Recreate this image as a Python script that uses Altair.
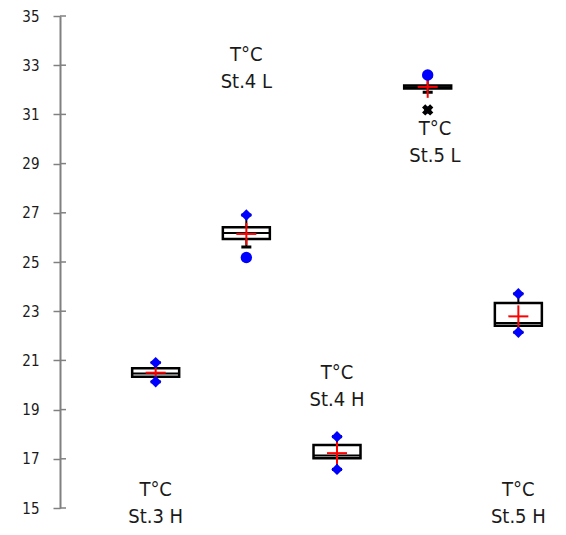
import altair as alt
import pandas as pd

# ---- data ----
categories = ["St.3 H", "St.4 L", "St.4 H", "St.5 L", "St.5 H"]
q1 = [20.34, 25.93, 17.02, 32.05, 22.41]
median = [20.47, 26.18, 17.13, 32.10, 22.52]
q3 = [20.68, 26.41, 17.56, 32.17, 23.33]
mean = [20.50, 26.14, 17.23, 32.12, 22.79]
whisker_low = [20.13, 25.61, 16.57, 31.90, 22.14]
whisker_high = [20.91, 26.91, 17.90, 32.55, 23.71]

point_cat = ["St.3 H", "St.3 H", "St.4 L", "St.4 L", "St.4 H", "St.4 H",
             "St.5 L", "St.5 H", "St.5 H"]
point_val = [20.91, 20.13, 26.91, 25.18, 17.90, 16.57, 32.60, 23.71, 22.14]
point_shape = ["diamond", "diamond", "diamond", "circle", "diamond", "diamond",
               "circle", "diamond", "diamond"]

cross_cat = ["St.5 L"]
cross_val = [31.18]

label_x_shift = [0.0, 0.0, 0.0, 0.08, 0.0]
label_y = [15.75, 33.41, 20.49, 30.41, 15.73]

y_ticks = list(range(15, 36, 2))

FONT = "'Liberation Sans Narrow', 'Arial Narrow', 'DejaVu Sans Condensed', 'Roboto Condensed', Roboto, sans-serif"

idx = {c: i + 1 for i, c in enumerate(categories)}
box_df = pd.DataFrame({
    "cat": categories, "idx": [idx[c] for c in categories],
    "q1": q1, "median": median, "q3": q3, "mean": mean,
    "wlo": whisker_low, "whi": whisker_high,
    "lx": [idx[c] + s for c, s in zip(categories, label_x_shift)],
    "ly": label_y,
    "label": ["T°C\n" + c for c in categories],
})
pt_df = pd.DataFrame({"idx": [idx[c] for c in point_cat], "v": point_val, "shape": point_shape})
cross_df = pd.DataFrame({"idx": [idx[c] for c in cross_cat], "v": cross_val})
tick_df = pd.DataFrame({"t": y_ticks})

xscale = alt.Scale(domain=[0, 5.36])
yscale = alt.Scale(domain=[15, 35], nice=False, zero=False)
yaxis = alt.Axis(values=y_ticks, title=None, grid=False, tickSize=7, tickWidth=1.5,
                 tickColor="#808080", domainColor="#808080", domainWidth=2,
                 labelFont=FONT, labelFontSize=15, labelColor="#1a1a1a", labelPadding=14)


def X(f):
    return alt.X(f, type="quantitative", scale=xscale, axis=None)


def Y(f):
    return alt.Y(f, type="quantitative", scale=yscale, axis=yaxis)


base = alt.Chart(box_df)

inner_ticks = alt.Chart(tick_df).mark_rule(color="#808080", strokeWidth=1.5).encode(
    y=Y("t"), x=alt.value(0), x2=alt.value(6))

whisk_lo = base.mark_rule(color="black", strokeWidth=2).encode(x=X("idx"), y=Y("wlo"), y2="q1")
whisk_hi = base.mark_rule(color="black", strokeWidth=2).encode(x=X("idx"), y=Y("q3"), y2="whi")
cap_lo = base.mark_rule(color="black", strokeWidth=3, xOffset=-5, x2Offset=5).encode(
    x=X("idx"), x2="idx", y=Y("wlo"))
cap_hi = base.mark_rule(color="black", strokeWidth=3, xOffset=-5, x2Offset=5).encode(
    x=X("idx"), x2="idx", y=Y("whi"))
box = base.mark_bar(size=47, orient="vertical", fill="white", stroke="black", strokeWidth=2.5).encode(
    x=X("idx"), y=Y("q1"), y2="q3")
med = base.mark_rule(color="black", strokeWidth=2, xOffset=-23.5, x2Offset=23.5).encode(
    x=X("idx"), x2="idx", y=Y("median"))
plus_h = base.mark_rule(color="red", strokeWidth=2, xOffset=-10, x2Offset=10).encode(
    x=X("idx"), x2="idx", y=Y("mean"))
plus_v = base.mark_rule(color="red", strokeWidth=2, yOffset=-11, y2Offset=11).encode(
    x=X("idx"), y=Y("mean"), y2="mean")

points = alt.Chart(pt_df).mark_point(filled=True, color="#0000ff", opacity=1, size=130).encode(
    x=X("idx"), y=Y("v"),
    shape=alt.Shape("shape:N", scale=None, legend=None))
cross_blue = alt.Chart(cross_df).mark_point(filled=True, color="#0000ff", opacity=1, size=50,
                                             shape="circle").encode(x=X("idx"), y=Y("v"))
cross = alt.Chart(cross_df).mark_point(filled=True, color="black", opacity=1, size=130,
                                        shape="cross", angle=45).encode(x=X("idx"), y=Y("v"))

labels = base.mark_text(font=FONT, fontSize=20, lineBreak="\n", lineHeight=27,
                        align="center", baseline="middle", color="#1a1a1a").encode(
    x=X("lx"), y=Y("ly"), text="label")

chart = alt.layer(
    inner_ticks, whisk_lo, whisk_hi, box, med, cap_lo, cap_hi, plus_h, plus_v,
    cross_blue, cross, points, labels
).properties(
    width=496, height=492,
    padding={"left": 52, "top": 8, "right": 0, "bottom": 19},
    autosize=alt.AutoSizeParams(type="none"),
).configure_view(stroke=None)

chart.save("out.html", embed_options={"renderer": "svg", "actions": False})
